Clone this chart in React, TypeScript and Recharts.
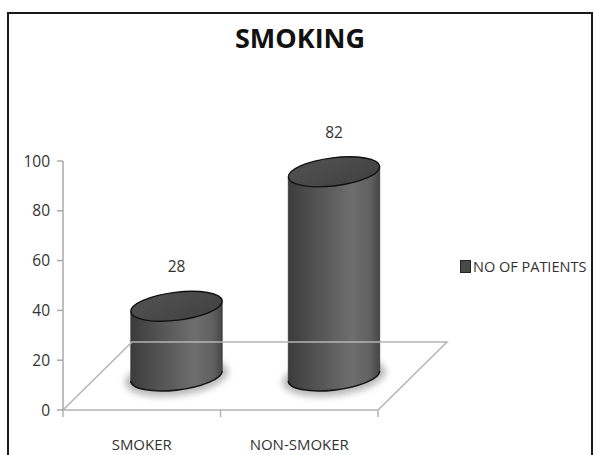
import React from 'react';
import { BarChart, Bar, XAxis, YAxis, ReferenceLine, Legend, LabelList } from 'recharts';

const categories = ['SMOKER', 'NON-SMOKER'];
const patients = [28, 82];
const yTicks = [0, 20, 40, 60, 80, 100];
const seriesName = 'NO OF PATIENTS';
const chartTitle = 'SMOKING';

const data = categories.map((c, i) => ({ category: c, value: patients[i] }));

const FONT = "'Open Sans', sans-serif";
const DEPTH_X = 69;
const DEPTH_Y = 68;
const SHIFT_X = DEPTH_X / 2;
const SHIFT_Y = DEPTH_Y / 2;
const RY = 14;
const ROT = -7;

function ellipsePoint(cx: number, cy: number, rx: number, ry: number, th: number, t: number) {
  return [
    cx + rx * Math.cos(t) * Math.cos(th) - ry * Math.sin(t) * Math.sin(th),
    cy + rx * Math.cos(t) * Math.sin(th) + ry * Math.sin(t) * Math.cos(th),
  ];
}

const Cylinder = (props: any) => {
  const { x, y, width, height, index } = props;
  if (width == null || height == null) return null;
  const rx = width / 2;
  const cx = x + width / 2 + SHIFT_X;
  const topCy = y - SHIFT_Y;
  const botCy = y + height - SHIFT_Y;
  const th = (ROT * Math.PI) / 180;
  const t0 = Math.atan2(-(RY * Math.sin(th)), rx * Math.cos(th));
  const rt = ellipsePoint(cx, topCy, rx, RY, th, t0);
  const lt = ellipsePoint(cx, topCy, rx, RY, th, t0 + Math.PI);
  const rb = ellipsePoint(cx, botCy, rx, RY, th, t0);
  const lb = ellipsePoint(cx, botCy, rx, RY, th, t0 + Math.PI);
  const gid = `cylGrad${index}`;
  const tid = `cylTop${index}`;
  const fid = `cylShadow${index}`;
  const body = `M${lt[0]},${lt[1]} L${lb[0]},${lb[1]} A${rx},${RY} ${ROT} 0 0 ${rb[0]},${rb[1]} L${rt[0]},${rt[1]} A${rx},${RY} ${ROT} 0 0 ${lt[0]},${lt[1]} Z`;
  const frontArc = `M${lb[0]},${lb[1]} A${rx},${RY} ${ROT} 0 0 ${rb[0]},${rb[1]}`;
  return (
    <g>
      <defs>
        <linearGradient id={gid} x1="0" y1="0" x2="1" y2="0">
          <stop offset="0%" stopColor="#3c3c3c" />
          <stop offset="30%" stopColor="#525252" />
          <stop offset="70%" stopColor="#6e6e6e" />
          <stop offset="90%" stopColor="#606060" />
          <stop offset="100%" stopColor="#464646" />
        </linearGradient>
        <linearGradient id={tid} x1="0" y1="0" x2="1" y2="1">
          <stop offset="0%" stopColor="#525252" />
          <stop offset="100%" stopColor="#404040" />
        </linearGradient>
        <filter id={fid} x="-30%" y="-80%" width="160%" height="260%">
          <feGaussianBlur stdDeviation="3" />
        </filter>
      </defs>
      <ellipse
        cx={cx}
        cy={botCy + 1}
        rx={rx + 6}
        ry={RY + 5}
        fill="#777"
        opacity={0.5}
        filter={`url(#${fid})`}
        transform={`rotate(${ROT} ${cx} ${botCy})`}
      />
      <path d={body} fill={`url(#${gid})`} stroke="none" />
      <path d={frontArc} fill="none" stroke="#151515" strokeWidth={1.6} />
      <line x1={lt[0]} y1={lt[1]} x2={lb[0]} y2={lb[1]} stroke="#333" strokeWidth={0.8} />
      <line x1={rt[0]} y1={rt[1]} x2={rb[0]} y2={rb[1]} stroke="#333" strokeWidth={0.8} />
      <ellipse
        cx={cx}
        cy={topCy}
        rx={rx}
        ry={RY}
        fill={`url(#${tid})`}
        stroke="#111"
        strokeWidth={1.4}
        transform={`rotate(${ROT} ${cx} ${topCy})`}
      />
    </g>
  );
};

const ValueLabel = (props: any) => {
  const { x, y, width, value } = props;
  const cx = x + width / 2 + SHIFT_X;
  const topCy = y - SHIFT_Y;
  return (
    <text x={cx} y={topCy - 34} textAnchor="middle" fontFamily={FONT} fontSize={15.5} fill="#333">
      {value}
    </text>
  );
};

const Floor = (props: any) => {
  const { x1, y1, x2 } = props;
  const n = categories.length;
  const stroke = '#b4b4b4';
  const ticks = [];
  for (let i = 0; i <= n; i++) {
    const tx = x1 + ((x2 - x1) * i) / n;
    ticks.push(<line key={i} x1={tx} y1={y1} x2={tx} y2={y1 + 7} stroke={stroke} strokeWidth={1.5} />);
  }
  const pts = `${x1},${y1} ${x2},${y1} ${x2 + DEPTH_X},${y1 - DEPTH_Y} ${x1 + DEPTH_X},${y1 - DEPTH_Y}`;
  return (
    <g>
      <polygon points={pts} fill="none" stroke={stroke} strokeWidth={1.5} />
      {ticks}
    </g>
  );
};

const LegendContent = () => (
  <div style={{ display: 'flex', alignItems: 'center', fontFamily: FONT, fontSize: 14.5, color: '#333', whiteSpace: 'nowrap' }}>
    <div style={{ width: 9, height: 11, background: '#4a4a4a', border: '1px solid #222', marginRight: 2 }} />
    <span>{seriesName}</span>
  </div>
);

export default function App() {
  return (
    <div style={{ position: 'absolute', left: 0, top: 0, width: 595, height: 455, background: '#fff', overflow: 'hidden' }}>
      <div
        style={{
          position: 'absolute',
          left: 7,
          top: 12,
          width: 582,
          height: 470,
          border: '2px solid #1a1a1a',
        }}
      />
      <div
        style={{
          position: 'absolute',
          left: 0,
          width: 600,
          top: 24,
          textAlign: 'center',
          fontFamily: FONT,
          fontWeight: 700,
          fontSize: 27,
          lineHeight: '27px',
          color: '#111',
        }}
      >
        {chartTitle}
      </div>
      <div style={{ position: 'absolute', left: 0, top: 0 }}>
        <BarChart
          width={595}
          height={455}
          data={data}
          margin={{ top: 161, right: 217, bottom: 0, left: 0 }}
          style={{ fontFamily: FONT }}
        >
          <XAxis
            dataKey="category"
            axisLine={false}
            tickLine={false}
            tickSize={0}
            tickMargin={29}
            height={45}
            interval={0}
            tick={{ fill: '#333', fontSize: 15, fontFamily: FONT }}
          />
          <YAxis
            domain={[0, 100]}
            ticks={yTicks}
            width={63}
            axisLine={{ stroke: '#a8a8a8', strokeWidth: 1.5 }}
            tickLine={{ stroke: '#a8a8a8', strokeWidth: 1.5 }}
            tickSize={6}
            tickMargin={7}
            tick={{ fill: '#333', fontSize: 15.5, fontFamily: FONT }}
            interval={0}
          />
          <ReferenceLine y={0} shape={<Floor />} ifOverflow="visible" />
          <Legend
            layout="vertical"
            align="center"
            verticalAlign="middle"
            content={<LegendContent />}
            wrapperStyle={{ left: 460, top: 257, width: 135 }}
          />
          <Bar dataKey="value" name={seriesName} barSize={92} shape={<Cylinder />} isAnimationActive={false}>
            <LabelList dataKey="value" content={<ValueLabel />} />
          </Bar>
        </BarChart>
      </div>
    </div>
  );
}
